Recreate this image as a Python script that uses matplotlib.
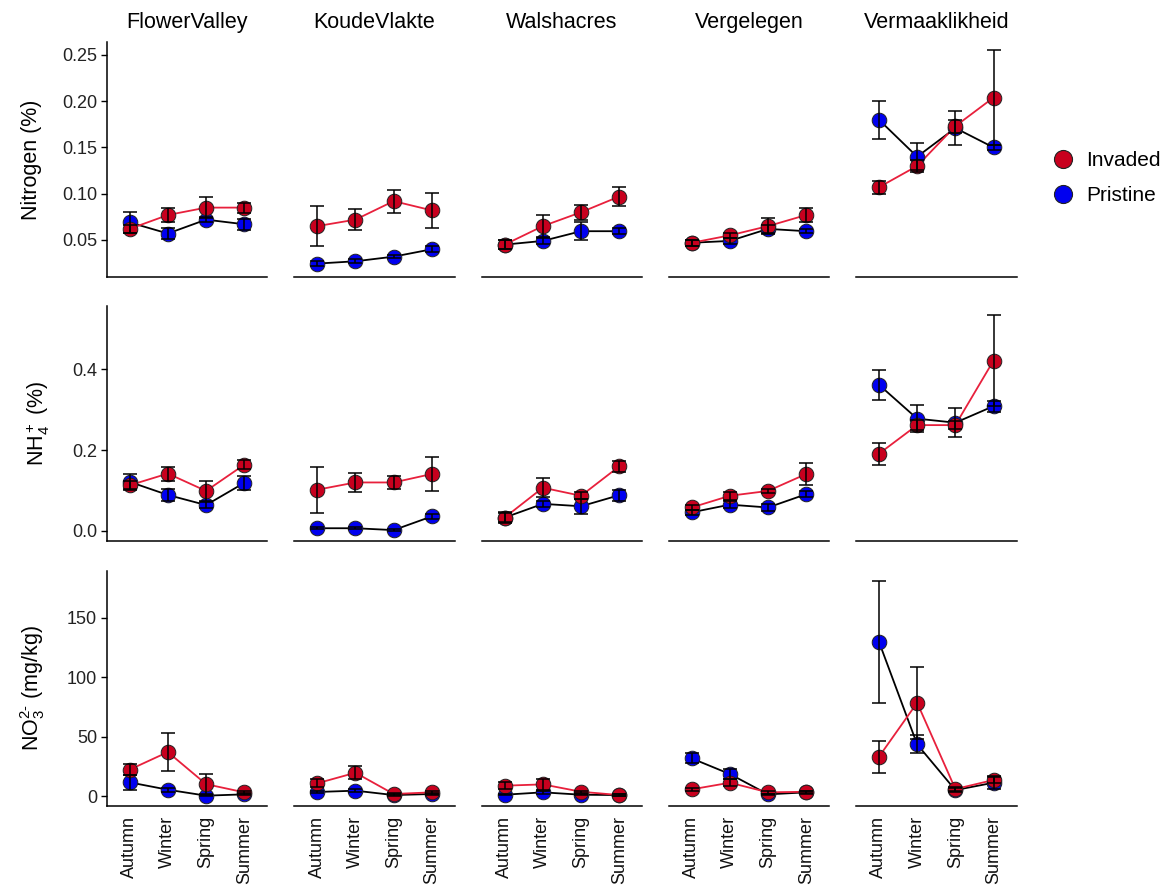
import numpy as np
import matplotlib
matplotlib.use('Agg')
import matplotlib.pyplot as plt
from matplotlib.lines import Line2D

plt.rcParams['font.family'] = 'Liberation Sans'
plt.rcParams['mathtext.fontset'] = 'custom'
plt.rcParams['mathtext.rm'] = 'Liberation Sans'
plt.rcParams['mathtext.it'] = 'Liberation Sans'

sites = ['FlowerValley', 'KoudeVlakte', 'Walshacres', 'Vergelegen', 'Vermaaklikheid']
seasons = ['Autumn', 'Winter', 'Spring', 'Summer']

# Nitrogen (%), one row per site
n_inv = [[0.062, 0.077, 0.085, 0.085],
         [0.065, 0.072, 0.092, 0.082],
         [0.045, 0.065, 0.080, 0.097],
         [0.047, 0.055, 0.065, 0.077],
         [0.107, 0.130, 0.173, 0.204]]
n_inv_se = [[0.004, 0.008, 0.011, 0.0055],
            [0.0215, 0.011, 0.0125, 0.019],
            [0.005, 0.012, 0.008, 0.0107],
            [0.003, 0.003, 0.0085, 0.008],
            [0.007, 0.006, 0.007, 0.051]]
n_pri = [[0.069, 0.057, 0.072, 0.067],
         [0.0245, 0.027, 0.032, 0.040],
         [0.045, 0.049, 0.0595, 0.0595],
         [0.047, 0.049, 0.062, 0.0595],
         [0.180, 0.140, 0.171, 0.150]]
n_pri_se = [[0.011, 0.0055, 0.003, 0.006],
            [0.003, 0.002, 0.002, 0.003],
            [0.005, 0.003, 0.0095, 0.0035],
            [0.003, 0.003, 0.004, 0.002],
            [0.0205, 0.0145, 0.018, 0.003]]

# NH4+ (%)
nh4_inv = [[0.113, 0.142, 0.099, 0.164],
           [0.102, 0.120, 0.120, 0.141],
           [0.033, 0.107, 0.087, 0.160],
           [0.058, 0.087, 0.099, 0.141],
           [0.191, 0.262, 0.262, 0.422]]
nh4_inv_se = [[0.010, 0.0175, 0.025, 0.0115],
              [0.0575, 0.024, 0.017, 0.043],
              [0.012, 0.023, 0.009, 0.0135],
              [0.006, 0.010, 0.004, 0.0277],
              [0.027, 0.012, 0.010, 0.112]]
nh4_pri = [[0.1215, 0.089, 0.064, 0.119],
           [0.0066, 0.0066, 0.002, 0.036],
           [0.033, 0.067, 0.061, 0.0885],
           [0.046, 0.065, 0.058, 0.091],
           [0.362, 0.278, 0.268, 0.309]]
nh4_pri_se = [[0.020, 0.014, 0.008, 0.017],
              [0.003, 0.003, 0.003, 0.007],
              [0.013, 0.007, 0.019, 0.0135],
              [0.006, 0.008, 0.009, 0.008],
              [0.037, 0.034, 0.036, 0.0135]]

# NO3 (mg/kg)
no3_inv = [[22.2, 37.0, 10.0, 3.1],
           [10.7, 19.6, 1.7, 3.1],
           [8.7, 9.8, 3.6, 0.8],
           [5.6, 11.2, 3.1, 3.6],
           [33.0, 78.5, 5.9, 13.5]]
no3_inv_se = [[4.8, 15.8, 8.3, 1.5],
              [3.3, 5.3, 1.0, 1.5],
              [3.0, 4.8, 1.0, 0.5],
              [1.0, 3.0, 1.0, 1.0],
              [13.5, 30.2, 2.0, 2.5]]
no3_pri = [[11.5, 5.3, 0.3, 1.4],
           [3.4, 4.5, 0.8, 1.7],
           [1.1, 3.1, 1.1, 0.8],
           [31.7, 18.5, 1.4, 3.1],
           [129.9, 43.5, 5.0, 11.2]]
no3_pri_se = [[6.3, 1.5, 0.5, 0.8],
              [1.0, 1.0, 0.5, 0.8],
              [0.5, 1.0, 0.5, 0.5],
              [4.3, 4.0, 0.5, 1.0],
              [51.2, 7.6, 2.0, 5.3]]

row_labels = ['Nitrogen (%)', r'NH$_4^+$ (%)', r'NO$_3^{2\text{-}}$ (mg/kg)']
row_ticks = [[0.05, 0.10, 0.15, 0.20, 0.25], [0.0, 0.2, 0.4], [0, 50, 100, 150]]
row_ticklabels = [['0.05', '0.10', '0.15', '0.20', '0.25'], ['0.0', '0.2', '0.4'], ['0', '50', '100', '150']]
row_lims = [(0.010, 0.264), (-0.025, 0.557), (-8.4, 189.4)]

rows = [(n_inv, n_inv_se, n_pri, n_pri_se),
        (nh4_inv, nh4_inv_se, nh4_pri, nh4_pri_se),
        (no3_inv, no3_inv_se, no3_pri, no3_pri_se)]

red_fill = '#C8001E'
red_line = '#E8203C'
blue_fill = '#0000F0'

W, H = 1172, 890
fig = plt.figure(figsize=(W / 100, H / 100), dpi=100)

col_left = [106.7, 294.3, 481.7, 668.7, 856.0]
pw = 160.5
row_top = [42, 306, 571]
ph = 235

x = np.arange(1, 5)
for r, (inv, inv_se, pri, pri_se) in enumerate(rows):
    for c, site in enumerate(sites):
        ax = fig.add_axes([col_left[c] / W, 1 - (row_top[r] + ph) / H, pw / W, ph / H])
        ax.plot(x, pri[c], color='black', lw=1.3, zorder=2)
        ax.plot(x, inv[c], color=red_line, lw=1.3, zorder=2)
        ax.plot(x, pri[c], 'o', ms=10.5, mfc=blue_fill, mec='#222222', mew=0.7, zorder=3)
        ax.plot(x, inv[c], 'o', ms=10.5, mfc=red_fill, mec='#222222', mew=0.7, zorder=3)
        ax.errorbar(x, pri[c], yerr=pri_se[c], fmt='none', ecolor='black', elinewidth=1.1,
                    capsize=4.7, capthick=1.1, zorder=4)
        ax.errorbar(x, inv[c], yerr=inv_se[c], fmt='none', ecolor='black', elinewidth=1.1,
                    capsize=4.7, capthick=1.1, zorder=4)
        ax.set_xlim(0.4, 4.6)
        ax.set_ylim(*row_lims[r])
        for s in ['top', 'right']:
            ax.spines[s].set_visible(False)
        ax.spines['bottom'].set_linewidth(1.1)
        ax.spines['left'].set_linewidth(1.1)
        ax.set_yticks(row_ticks[r])
        ax.set_xticks(x)
        if c == 0:
            ax.set_yticklabels(row_ticklabels[r], fontsize=13, color='#222222')
            ax.tick_params(axis='y', length=4, width=1.0, pad=3)
            ax.set_ylabel(row_labels[r], fontsize=15.5, labelpad=14)
        else:
            ax.spines['left'].set_visible(False)
            ax.tick_params(axis='y', left=False, labelleft=False)
        if r == 2:
            ax.set_xticklabels(seasons, rotation=90, fontsize=13, color='#111111')
            ax.tick_params(axis='x', length=0, pad=7)
        else:
            ax.tick_params(axis='x', bottom=False, labelbottom=False)
        if r == 0:
            ax.set_title(site, fontsize=15.5, pad=10)

handles = [Line2D([], [], ls='none', marker='o', ms=13, mfc=red_fill, mec='#222222', mew=0.8),
           Line2D([], [], ls='none', marker='o', ms=13, mfc=blue_fill, mec='#222222', mew=0.8)]
fig.legend(handles, ['Invaded', 'Pristine'], loc='center left', bbox_to_anchor=(1032 / W, 1 - 178 / H),
           frameon=False, fontsize=15, handletextpad=0.5, labelspacing=0.75, handlelength=1.2)

fig.savefig('out.png', dpi=100)
